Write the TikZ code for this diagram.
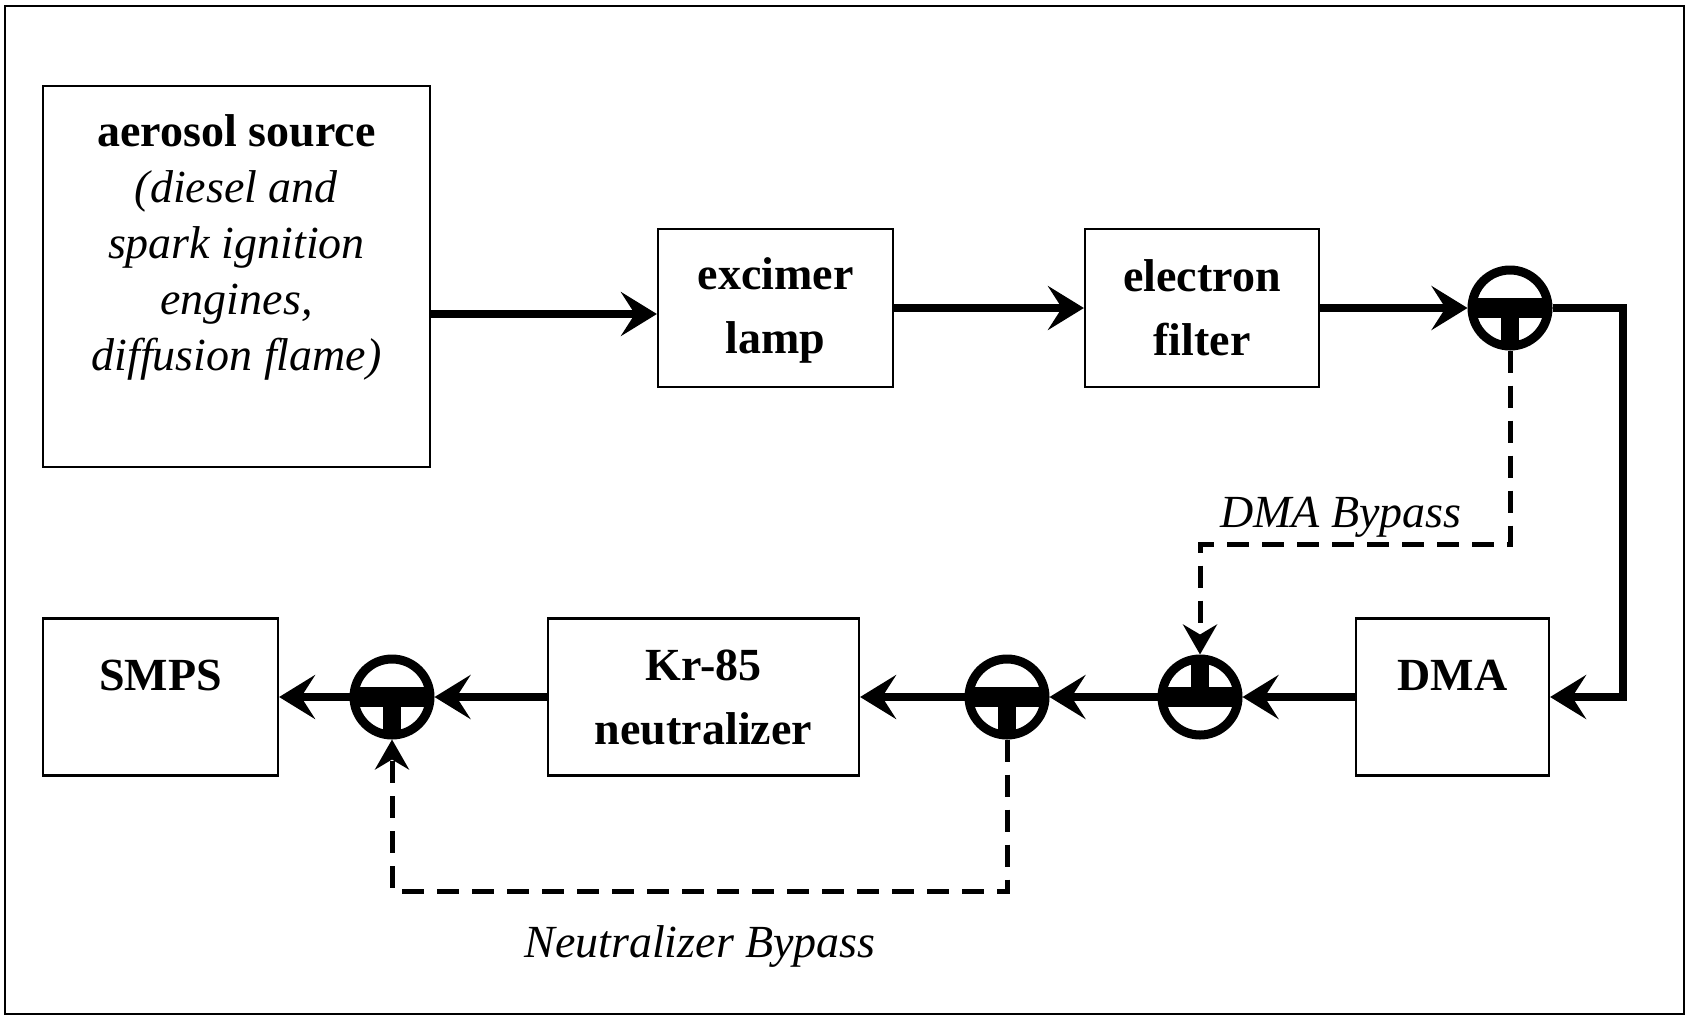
\documentclass[tikz,border=0pt]{standalone}
\usepackage{fontspec}
\setmainfont{Liberation Serif}
\usetikzlibrary{arrows.meta}

\tikzset{
  unit/.style={draw, line width=0.55pt, align=center, inner sep=0pt,
    font=\fontsize{11.5}{16}\selectfont\bfseries},
  flow/.style={line width=1.8pt, -{Stealth[length=9pt, width=11pt, inset=3.5pt]}},
  bypass/.style={line width=1.25pt, dash pattern=on 5.5pt off 3.25pt,
    -{Stealth[length=7.5pt, width=8.5pt, inset=2.5pt]}},
  % valve: ring with a bar across and a stem towards #1
  valve/.style={circle, draw, line width=2.25pt, minimum size=19pt, inner sep=0pt,
    path picture={
      \fill ([yshift=-2.5pt]path picture bounding box.west) rectangle ([yshift=2.5pt]path picture bounding box.east);
      \fill ([xshift=-2.25pt]path picture bounding box.center) rectangle ([xshift=2.25pt]path picture bounding box.#1);
    }},
  valve/.default=south,
  tag/.style={font=\fontsize{11.5}{14}\selectfont\itshape},
}

\begin{document}
\begin{tikzpicture}[x=0.25pt, y=-0.25pt]
    \useasboundingbox (0,0) rectangle (1687,1017);
    \draw[line width=0.6pt] (5,6) rectangle (1684,1014);

    % Upper row
    \node[unit, minimum width=96.75pt, minimum height=95.25pt, font=\fontsize{11.5}{14}\selectfont] (aerosol) at (236.5,276.5)
        {\textbf{aerosol source}\\ \textit{(diesel and}\\ \textit{spark ignition}\\ \textit{engines,}\\ \textit{diffusion flame)}\\[3pt] \mbox{}};
    \node[unit, minimum width=58.75pt, minimum height=39.5pt] (excimer) at (775.5,308) {excimer\\ lamp\\[-15pt]\mbox{}};
    \node[unit, minimum width=58.5pt, minimum height=39.5pt] (filter) at (1202,308) {electron\\ filter};
    \node[valve] (v1) at (1510,308) {};

    % Lower row
    \node[unit, minimum width=48.25pt, minimum height=39.25pt] (dma) at (1452.5,697) {DMA\\[-5pt]\mbox{}};
    \node[valve=north] (v2) at (1200,697) {};
    \node[valve] (v3) at (1007,697) {};
    \node[unit, minimum width=77.75pt, minimum height=39.25pt] (kr) at (703.5,697) {Kr-85\\ neutralizer};
    \node[valve] (v4) at (392,697) {};
    \node[unit, minimum width=58.75pt, minimum height=39.25pt] (smps) at (160.5,697) {SMPS\\[-5pt]\mbox{}};

    % Main flow
    \draw[flow] ([yshift=-1.5pt]aerosol.east |- excimer.west) -- ([yshift=-1.5pt]excimer.west);
    \draw[flow] (excimer) -- (filter);
    \draw[flow] (filter) -- (v1);
    \coordinate (rturn) at (1623,697);
    \draw[flow] (v1.east) -| (rturn) -- (dma.east);
    \draw[flow] (dma) -- (v2);
    \draw[flow] (v2) -- (v3);
    \draw[flow] (v3) -- (kr);
    \draw[flow] (kr) -- (v4);
    \draw[flow] (v4) -- (smps);

    % Bypass lines
    \coordinate (dmabend) at (1200,544);
    \draw[bypass] (v1.south) |- (dmabend) -- (v2.north);
    \node[tag] (dmatag) at (1341,517) {DMA Bypass};

    \coordinate (neubend) at (392,891);
    \draw[bypass] (v3.south) |- (neubend) -- (v4.south);
    \node[tag] (neutag) at (700,946) {Neutralizer Bypass};
\end{tikzpicture}
\end{document}
